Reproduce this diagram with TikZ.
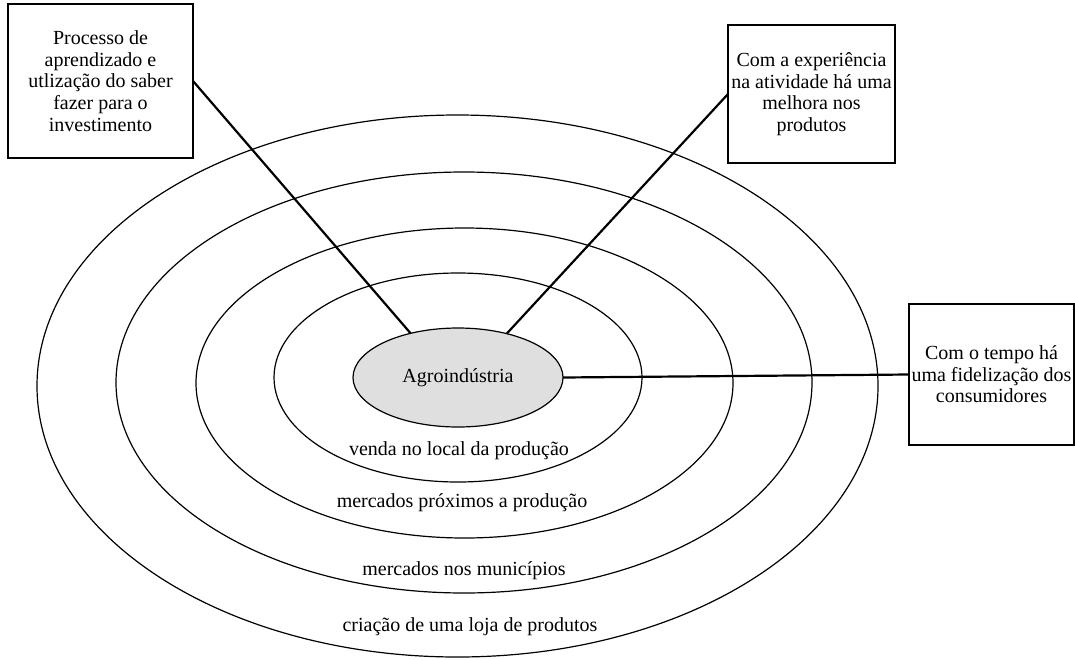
\documentclass[tikz,border=0pt]{standalone}
\usepackage{fontspec}
\setmainfont{Liberation Serif}
\usetikzlibrary{shapes.geometric}
\begin{document}
\begin{tikzpicture}[x=0.5pt,y=-0.5pt,
  ring/.style={line width=0.6pt},
  note/.style={draw, line width=1pt, align=center, inner sep=0pt, outer sep=0pt,
    font=\fontsize{10}{10.8}\selectfont},
  link/.style={line width=1.1pt},
  lbl/.style={font=\fontsize{10}{12}\selectfont, inner sep=0pt}]
\useasboundingbox (0,0) rectangle (1075,659);

% concentric market rings
\draw[ring] (457.5,386) ellipse [x radius=210.25pt, y radius=135.5pt];
\draw[ring] (464,382.5) ellipse [x radius=174pt, y radius=105.25pt];
\draw[ring] (464.5,383) ellipse [x radius=134.25pt, y radius=77.5pt];
\draw[ring] (458,377.5) ellipse [x radius=92pt, y radius=52.25pt];

% core
\node[ellipse, draw, line width=0.6pt, fill=gray!25, minimum width=105pt,
  minimum height=49.5pt, inner sep=0pt, outer sep=0pt,
  font=\fontsize{10}{12}\selectfont] (agro) at (458,377.5) {Agroindústria};

% ring labels
\node[lbl] (r1) at (459,451) {venda no local da produção};
\node[lbl] (r2) at (462,503) {mercados próximos a produção};
\node[lbl] (r3) at (464,571) {mercados nos municípios};
\node[lbl] (r4) at (470,627) {criação de uma loja de produtos};

% notes
\node[note, minimum width=92.5pt, minimum height=77pt] (n1) at (100.5,81)
  {Processo de\\aprendizado e\\utlização do saber\\fazer para o\\investimento};
\node[note, minimum width=83.5pt, minimum height=69pt] (n2) at (811.5,94)
  {Com a experiência\\na atividade há uma\\melhora nos\\produtos};
\node[note, minimum width=82.5pt, minimum height=70.5pt] (n3) at (991.5,374.5)
  {Com o tempo há\\uma fidelização dos\\consumidores};

% connectors
\draw[link] (n1.east) -- (agro.137);
\draw[link] (n2.west) -- (agro.42);
\draw[link] (agro.east) -- (n3.west);
\end{tikzpicture}
\end{document}
